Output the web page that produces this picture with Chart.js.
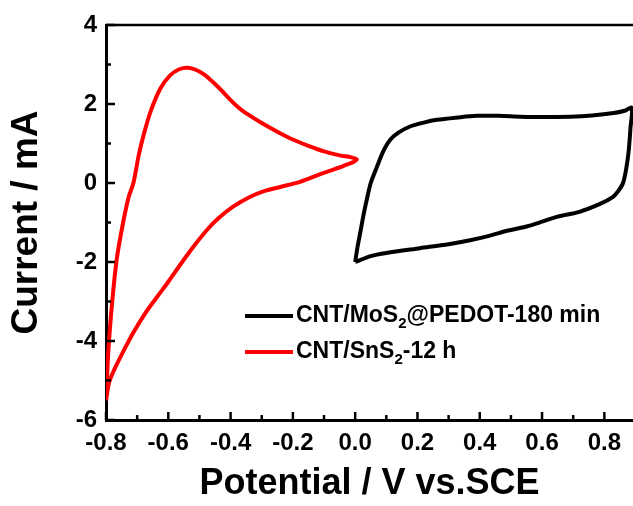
<!DOCTYPE html>
<html>
<head>
<meta charset="utf-8">
<script src="https://cdn.jsdelivr.net/npm/chart.js@4.4.1/dist/chart.umd.min.js"></script>
<style>
  html, body { margin: 0; padding: 0; background: #fff; }
  #wrap { width: 633px; height: 506px; position: relative; }
</style>
</head>
<body>
<div id="wrap"><canvas id="cvChart"></canvas></div>
<script>
// ===== DATA =====
// CNT/MoS2@PEDOT-180 min (black loop)
var mosPotential = [0.000, 0.008, 0.016, 0.027, 0.037, 0.050, 0.070, 0.090, 0.112, 0.140, 0.176, 0.220, 0.262, 0.330, 0.390, 0.460, 0.530, 0.600, 0.690, 0.760, 0.830, 0.865, 0.888,
                    0.884, 0.878, 0.870, 0.860, 0.845, 0.828, 0.786, 0.720, 0.650, 0.600, 0.550, 0.487, 0.430, 0.369, 0.300, 0.208, 0.100, 0.050, 0.000];
var mosCurrent   = [-2.00, -1.60, -1.27, -0.80, -0.43, 0.00, 0.41, 0.80, 1.09, 1.28, 1.43, 1.53, 1.60, 1.66, 1.70, 1.70, 1.68, 1.67, 1.68, 1.71, 1.77, 1.83, 1.90,
                    1.40, 0.80, 0.35, 0.00, -0.20, -0.35, -0.53, -0.73, -0.85, -0.98, -1.10, -1.21, -1.34, -1.45, -1.55, -1.65, -1.77, -1.85, -2.00];

// CNT/SnS2-12 h (red loop)
var snsPotential = [-0.800, -0.792, -0.780, -0.765, -0.745, -0.727, -0.712, -0.695, -0.678, -0.655, -0.625, -0.595, -0.565, -0.537, -0.510, -0.480, -0.456, -0.430, -0.400, -0.370, -0.347, -0.300, -0.250, -0.200, -0.150, -0.100, -0.050, -0.012, 0.005,
                    -0.004, -0.035, -0.070, -0.110, -0.177, -0.240, -0.290, -0.340, -0.392, -0.440, -0.476, -0.520, -0.560, -0.600, -0.630, -0.670, -0.713, -0.750, -0.775, -0.790, -0.800];
var snsCurrent   = [-5.50, -4.20, -3.00, -1.90, -1.00, -0.35, 0.00, 0.70, 1.25, 1.85, 2.40, 2.72, 2.88, 2.92, 2.86, 2.72, 2.55, 2.35, 2.10, 1.88, 1.75, 1.52, 1.30, 1.10, 0.94, 0.80, 0.70, 0.65, 0.60,
                    0.54, 0.44, 0.34, 0.23, 0.03, -0.10, -0.20, -0.36, -0.60, -0.90, -1.19, -1.62, -2.05, -2.50, -2.82, -3.25, -3.80, -4.35, -4.75, -5.05, -5.50];

var seriesNames  = ["CNT/MoS_2@PEDOT-180 min", "CNT/SnS_2-12 h"];
var seriesColors = ["#000000", "#ff0000"];

var xTicks = [-0.8, -0.6, -0.4, -0.2, 0.0, 0.2, 0.4, 0.6, 0.8];
var xMinor = [-0.7, -0.5, -0.3, -0.1, 0.1, 0.3, 0.5, 0.7];
var yTicks = [-6, -4, -2, 0, 2, 4];
var yMinor = [-5, -3, -1, 1, 3];

var xLabel = "Potential / V vs.SCE";
var yLabel = "Current / mA";

var FONT = "'Liberation Sans', Arial, sans-serif";

function toPoints(xs, ys) {
    var pts = [];
    for (var i = 0; i < xs.length; i++) pts.push({ x: xs[i], y: ys[i] });
    return pts;
}

// ===== FRAME + INWARD TICKS =====
var frameTicks = {
    id: "frameTicks",
    afterDraw: function(chart) {
        var ctx = chart.ctx, a = chart.chartArea;
        var xs = chart.scales.x, ys = chart.scales.y;
        ctx.save();
        ctx.strokeStyle = "#000";
        ctx.lineWidth = 2.5;
        ctx.beginPath();
        ctx.moveTo(a.left, a.top);
        ctx.lineTo(a.right, a.top);
        ctx.stroke();

        ctx.lineWidth = 2.5;
        function tickX(v, len) {
            var px = xs.getPixelForValue(v);
            ctx.beginPath(); ctx.moveTo(px, a.bottom); ctx.lineTo(px, a.bottom - len); ctx.stroke();
        }
        function tickY(v, len) {
            var py = ys.getPixelForValue(v);
            ctx.beginPath(); ctx.moveTo(a.left, py); ctx.lineTo(a.left + len, py); ctx.stroke();
        }
        xTicks.forEach(function(v) { tickX(v, 8); });
        xMinor.forEach(function(v) { tickX(v, 5); });
        yTicks.forEach(function(v) { tickY(v, 9); });
        yMinor.forEach(function(v) { tickY(v, 5); });
        ctx.restore();
    }
};

// ===== LEGEND WITH SUBSCRIPTS =====
var subLegend = {
    id: "subLegend",
    afterDraw: function(chart) {
        var ctx = chart.ctx;
        var x0 = 245, x1 = 293, tx = 296;
        var rows = [316, 352];
        ctx.save();
        for (var i = 0; i < seriesNames.length; i++) {
            var y = rows[i];
            ctx.strokeStyle = seriesColors[i];
            ctx.lineWidth = 4;
            ctx.beginPath(); ctx.moveTo(x0, y); ctx.lineTo(x1, y); ctx.stroke();

            ctx.fillStyle = "#000";
            ctx.textBaseline = "middle";
            ctx.textAlign = "left";
            var parts = seriesNames[i].split("_");
            var cx = tx;
            for (var p = 0; p < parts.length; p++) {
                var s = parts[p];
                if (p > 0) {
                    ctx.font = "bold 15px " + FONT;
                    ctx.fillText(s.charAt(0), cx, y + 8);
                    cx += ctx.measureText(s.charAt(0)).width;
                    s = s.substring(1);
                }
                ctx.font = "bold 23px " + FONT;
                ctx.fillText(s, cx, y);
                cx += ctx.measureText(s).width;
            }
        }
        ctx.restore();
    }
};

var ctxEl = document.getElementById("cvChart");
new Chart(ctxEl, {
    type: "scatter",
    data: {
        datasets: [
            {
                label: seriesNames[0],
                data: toPoints(mosPotential, mosCurrent),
                showLine: true,
                borderColor: seriesColors[0],
                borderWidth: 4,
                pointRadius: 0,
                tension: 0.3
            },
            {
                label: seriesNames[1],
                data: toPoints(snsPotential, snsCurrent),
                showLine: true,
                borderColor: seriesColors[1],
                borderWidth: 4,
                pointRadius: 0,
                tension: 0.3
            }
        ]
    },
    options: {
        responsive: true,
        maintainAspectRatio: false,
        animation: false,
        layout: { padding: { top: 25, right: 0, left: 0, bottom: 0 } },
        plugins: { legend: { display: false }, tooltip: { enabled: false } },
        scales: {
            x: {
                type: "linear",
                min: -0.8,
                max: 0.892,
                afterBuildTicks: function(scale) {
                    scale.ticks = xTicks.map(function(v) { return { value: v }; });
                },
                afterFit: function(scale) { scale.height = 86; },
                grid: { display: false, drawTicks: false },
                border: { display: true, color: "#000", width: 3 },
                ticks: {
                    color: "#000",
                    padding: 9,
                    maxRotation: 0,
                    font: { family: FONT, weight: "bold", size: 24 },
                    callback: function(v) { return Number(v).toFixed(1); }
                },
                title: {
                    display: true,
                    text: xLabel,
                    color: "#000",
                    font: { family: FONT, weight: "bold", size: 36 },
                    padding: { top: 0, bottom: 0 }
                }
            },
            y: {
                type: "linear",
                min: -6,
                max: 4,
                afterBuildTicks: function(scale) {
                    scale.ticks = yTicks.map(function(v) { return { value: v }; });
                },
                afterFit: function(scale) { scale.width = 106; },
                grid: { display: false, drawTicks: false },
                border: { display: true, color: "#000", width: 3 },
                ticks: {
                    color: "#000",
                    padding: 9,
                    font: { family: FONT, weight: "bold", size: 24 }
                },
                title: {
                    display: true,
                    text: yLabel,
                    color: "#000",
                    font: { family: FONT, weight: "bold", size: 37 },
                    padding: { top: 5, bottom: 0 }
                }
            }
        }
    },
    plugins: [frameTicks, subLegend]
});
</script>
</body>
</html>
